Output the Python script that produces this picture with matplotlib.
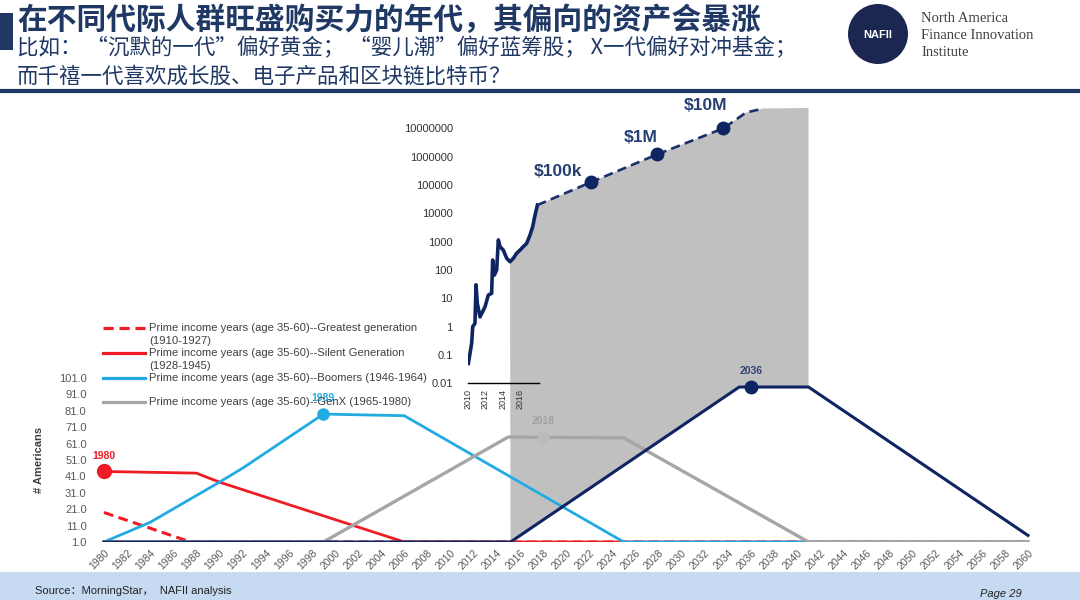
import numpy as np
import matplotlib
matplotlib.use('Agg')
import matplotlib.pyplot as plt
from matplotlib.lines import Line2D
from matplotlib.patches import Polygon, Rectangle, Ellipse
from matplotlib.transforms import IdentityTransform

plt.rcParams['font.family'] = ['Liberation Sans', 'Noto Sans CJK SC', 'DejaVu Sans']

# ---------------- text ----------------
title = "在不同代际人群旺盛购买力的年代，其偏向的资产会暴涨"
subtitle1 = "比如： “沉默的一代”偏好黄金； “婴儿潮”偏好蓝筹股； X一代偏好对冲基金；"
subtitle2 = "而千禧一代喜欢成长股、电子产品和区块链比特币？"
org_lines = ["North America", "Finance Innovation", "Institute"]
source_text = "Source：MorningStar，  NAFII analysis"
page_text = "Page 29"

legend_lines = [
    ["Prime income years (age 35-60)--Greatest generation", "(1910-1927)"],
    ["Prime income years (age 35-60)--Silent Generation", "(1928-1945)"],
    ["Prime income years (age 35-60)--Boomers (1946-1964)"],
    ["Prime income years (age 35-60)--GenX (1965-1980)"],
]

# ---------------- generation data (# Americans) ----------------
greatest_years = [1980, 1987.5, 2060]
greatest_vals = [19, 1, 1]
silent_years = [1980, 1988, 1990, 2006, 2060]
silent_vals = [44, 43, 37.5, 1, 1]
boomer_years = [1980, 1984, 1990, 1992, 1999, 2006, 2025, 2060]
boomer_vals = [1, 13, 37.5, 46, 79, 78, 1, 1]
genx_years = [1980, 1999, 2015, 2025, 2041, 2060]
genx_vals = [1, 1, 65, 64.5, 1, 1]
mill_years = [1980, 2015.2, 2035, 2041, 2060]
mill_vals = [1, 1, 95.5, 95.5, 5]

peak_years = [1980, 1999, 2018, 2036]
peak_vals = [44, 79, 65, 95.5]
peak_labels = ["1980", "1989", "2018", "2036"]

x_ticks = list(range(1980, 2061, 2))
y_ticks = [1, 11, 21, 31, 41, 51, 61, 71, 81, 91, 101]

# ---------------- bitcoin price (log) ----------------
btc_years = [2010.04, 2010.42, 2010.54, 2010.8, 2010.92, 2011.07, 2011.38, 2011.95,
             2012.33, 2012.71, 2012.83, 2013.02, 2013.29, 2013.48, 2013.67, 2014.05,
             2014.44, 2014.82, 2015.2, 2015.58, 2015.96, 2016.34, 2016.73, 2017.11,
             2017.42, 2017.65, 2017.96]
btc_price = [0.05, 0.26, 1.0, 1.3, 30, 6.6, 2.2, 5.0,
             13, 15, 224, 66, 100, 1150, 665, 500,
             257, 195, 257, 390, 500, 665, 870, 1700,
             3350, 7600, 19500]
proj_years = [2017.96, 2024.1, 2031.7, 2039.3, 2041.9, 2043.9]
proj_price = [19500, 1.25e5, 1.2e6, 1.0e7, 3.6e7, 5.0e7]
milestone_idx = [1, 2, 3]
milestone_labels = ["$100k", "$1M", "$10M"]
btc_yticks = [0.01, 0.1, 1, 10, 100, 1000, 10000, 100000, 1000000, 10000000]
btc_ytick_labels = ["0.01", "0.1", "1", "10", "100", "1000", "10000", "100000", "1000000", "10000000"]
btc_xticks = [2010, 2012, 2014, 2016]

# ---------------- style ----------------
W, H = 1080, 600
NAVY = '#1F3864'
LINE_NAVY = '#0F2462'
RED = '#EE1C25'
BLUE = '#22ABE2'
GREY = '#A6A6A6'
FILL = '#C0C0C0'
TXT = '#404040'


def fx(x):
    return x / W


def fy(y):
    return 1 - y / H


fig = plt.figure(figsize=(W / 100, H / 100), dpi=100)
fig.patch.set_facecolor('white')

# ---------------- header ----------------
fig.add_artist(Rectangle((0, fy(50)), fx(13), (50 - 13) / H, transform=fig.transFigure,
                         color=NAVY, lw=0))
fig.text(fx(17), fy(20), title, fontsize=21.4, weight='bold', color=NAVY,
         family=['Noto Sans CJK SC'], va='center', ha='left')
fig.text(fx(17), fy(48), subtitle1, fontsize=15.5, color=NAVY,
         family=['Noto Sans CJK SC'], va='center', ha='left')
fig.text(fx(17), fy(77), subtitle2, fontsize=15.5, color=NAVY,
         family=['Noto Sans CJK SC'], va='center', ha='left')
fig.add_artist(Line2D([0, 1], [fy(91), fy(91)], transform=fig.transFigure,
                      color=NAVY, lw=3))
# logo
fig.add_artist(Ellipse((fx(878), fy(34)), 60 / W, 60 / H, transform=fig.transFigure,
                       color='#1B2750', lw=0))
fig.text(fx(878), fy(35), "NAFII", fontsize=8, color='white', weight='bold',
         ha='center', va='center')
for i, s in enumerate(org_lines):
    fig.text(fx(921), fy(19 + 16.5 * i), s, fontsize=10.5, color=TXT,
             family=['Liberation Serif'], ha='left', va='center')

# ---------------- footer ----------------
fig.add_artist(Rectangle((0, 0), 1, 28 / H, transform=fig.transFigure,
                         color='#C6DAF2', lw=0))
fig.text(fx(35), fy(591), source_text, fontsize=8, color='#222222', ha='left', va='center')
fig.text(fx(1022), fy(594), page_text, fontsize=8, color='#222222', style='italic',
         ha='right', va='center')

# ---------------- bottom chart ----------------
axb = fig.add_axes([fx(100.5), fy(542), (1030.3 - 100.5) / W, (542 - 378) / H])
axb.set_facecolor('none')
axb.set_xlim(1979.7, 2060.2)
axb.set_ylim(1, 101)
for sp in axb.spines.values():
    sp.set_visible(False)
axb.plot(greatest_years, greatest_vals, color=RED, lw=2.2, ls=(0, (3.2, 1.8)), zorder=3)
axb.plot(silent_years, silent_vals, color=RED, lw=2.0, zorder=3)
axb.plot(boomer_years, boomer_vals, color=BLUE, lw=2.0, zorder=3)
axb.plot(genx_years, genx_vals, color=GREY, lw=2.4, zorder=3)
axb.plot(mill_years, mill_vals, color=LINE_NAVY, lw=2.2, zorder=3)

peak_colors = [RED, BLUE, '#BBBBBB', LINE_NAVY]
text_colors = [RED, BLUE, '#A0A0A0', '#2E4272']
peak_sizes = [10, 8, 8, 9]
for yr, v, lab, c, tc, ms in zip(peak_years, peak_vals, peak_labels, peak_colors,
                                   text_colors, peak_sizes):
    axb.plot([yr], [v], 'o', color=c, ms=ms, clip_on=False, zorder=4)
    axb.annotate(lab, (yr, v), xytext=(0, 11.5), textcoords='offset points',
                 ha='center', va='center', fontsize=7.5, weight='bold', color=tc,
                 annotation_clip=False)

axb.set_xticks(x_ticks)
axb.set_xticklabels([str(x) for x in x_ticks], rotation=45, ha='right',
                    rotation_mode='anchor', fontsize=7.5, color='#595959')
axb.set_yticks(y_ticks)
axb.set_yticklabels([f"{v:.1f}" for v in y_ticks], fontsize=8, color='#595959')
axb.tick_params(axis='both', length=0)
axb.tick_params(axis='y', pad=10)
axb.tick_params(axis='x', pad=4)
axb.set_ylabel("# Americans", fontsize=8, weight='bold', color=TXT)
axb.yaxis.set_label_coords(-0.061, 0.5)

# ---------------- top chart (log) ----------------
axt = fig.add_axes([fx(468), fy(383.3), (808 - 468) / W, (383.3 - 108) / H])
axt.set_facecolor('none')
axt.set_yscale('log')
axt.set_xlim(2010, 2049.0)
axt.set_ylim(0.01, 5.2e7)
for k in ['top', 'right', 'left']:
    axt.spines[k].set_visible(False)
axt.spines['bottom'].set_bounds(2010, 2018.1)
axt.spines['bottom'].set_linewidth(1.0)
axt.set_yticks(btc_yticks)
axt.set_yticklabels(btc_ytick_labels, fontsize=8, color='#333333')
axt.yaxis.set_minor_locator(matplotlib.ticker.NullLocator())
axt.set_xticks(btc_xticks)
axt.set_xticklabels([str(x) for x in btc_xticks], rotation=90, fontsize=6.5, color='#333333')
axt.tick_params(axis='both', length=0)
axt.tick_params(axis='y', pad=11)
axt.tick_params(axis='x', pad=4)

axt.plot(btc_years, btc_price, color=LINE_NAVY, lw=2.6, zorder=3, solid_joinstyle='round')
axt.plot(proj_years, proj_price, color='#1B2F6B', lw=1.9, ls=(0, (3.5, 2.0)), zorder=3,
         clip_on=False)
label_offsets = [(-24, 7.5), (-12, 12), (-13, 16.5)]
for idx, lab, off in zip(milestone_idx, milestone_labels, label_offsets):
    axt.plot([proj_years[idx]], [proj_price[idx]], 'o', color=LINE_NAVY, ms=9, zorder=4)
    axt.annotate(lab, (proj_years[idx], proj_price[idx]), xytext=off,
                 textcoords='offset points', ha='center', va='center',
                 fontsize=12.5, weight='bold', color='#263F73')

# ---------------- grey highlight area (between price curve and millennials line) ----------------
top_pts = [(x, y) for x, y in zip(btc_years, btc_price) if x >= 2014.8]
top_pts += list(zip(proj_years[1:], proj_price[1:]))
disp_top = axt.transData.transform(top_pts)
x_right = axb.transData.transform((2041, 95.5))[0]
y_ceiling = axt.transData.transform((2049, 5.2e7))[1]
bottom_pts = [(x, y) for x, y in zip(mill_years, mill_vals) if 2015.2 <= x <= 2041]
disp_bottom = axb.transData.transform(bottom_pts)[::-1]
poly_pts = np.vstack([disp_top, [[x_right, y_ceiling]], disp_bottom])
fig.add_artist(Polygon(poly_pts, closed=True, transform=IdentityTransform(),
                       facecolor=FILL, edgecolor='none', zorder=-1))

# ---------------- legend ----------------
handle_styles = [(RED, (0, (3.2, 1.8))), (RED, '-'), (BLUE, '-'), (GREY, '-')]
ys = [[328, 341.5], [353, 366], [378], [402]]
for (c, ls), lines, yy in zip(handle_styles, legend_lines, ys):
    fig.add_artist(Line2D([fx(103), fx(145)], [fy(yy[0]), fy(yy[0])],
                          transform=fig.transFigure, color=c, lw=2.3, ls=ls))
    for s, y in zip(lines, yy):
        fig.text(fx(149), fy(y), s, fontsize=8.1, color=TXT, ha='left', va='center')

fig.savefig('out.png', dpi=100)
